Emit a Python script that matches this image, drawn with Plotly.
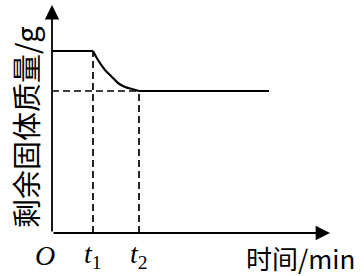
import plotly.graph_objects as go

# data (arbitrary units)
t1 = 4.1
t2 = 8.7
t_end = 21.7
m0 = 18.2
m1 = 14.2
curve_t = [4.1, 4.6, 5.3, 6.0, 6.6, 7.3, 8.0, 8.7]
curve_m = [18.2, 17.3, 16.3, 15.6, 15.0, 14.6, 14.4, 14.2]
x_axis_end = 27.8
y_axis_end = 22.8
x_tick_labels = ["<i>O</i>", "<i>t</i><sub>1</sub>", "<i>t</i><sub>2</sub>"]
x_tick_pos = [-0.7, t1, t2]
x_title = "时间/min"
y_title = "剩余固体质量/g"

fig = go.Figure()
dash = dict(color="black", width=1.7, dash="7px,4px")
solid = dict(color="black", width=2.2)
fig.add_trace(go.Scatter(x=[t1, t1], y=[0, m0], mode="lines", line=dash))
fig.add_trace(go.Scatter(x=[0, t2], y=[m1, m1], mode="lines", line=dash))
fig.add_trace(go.Scatter(x=[t2, t2], y=[0, m1], mode="lines", line=dash))
fig.add_trace(go.Scatter(x=[0, t1], y=[m0, m0], mode="lines", line=solid))
fig.add_trace(go.Scatter(x=curve_t, y=curve_m, mode="lines",
                         line=dict(color="black", width=2.2, shape="spline", smoothing=0.8)))
fig.add_trace(go.Scatter(x=[t2, t_end], y=[m1, m1], mode="lines", line=solid))

ann = []
# axes arrows
ann.append(dict(x=x_axis_end, y=0, ax=0, ay=0, xref="x", yref="y", axref="x", ayref="y",
                showarrow=True, arrowhead=2, arrowsize=1.6, arrowwidth=1.8, arrowcolor="black", text=""))
ann.append(dict(x=0, y=y_axis_end, ax=0, ay=0, xref="x", yref="y", axref="x", ayref="y",
                showarrow=True, arrowhead=2, arrowsize=1.6, arrowwidth=1.8, arrowcolor="black", text=""))
serif = "Liberation Serif, DejaVu Serif, serif"
for lab, xp in zip(x_tick_labels, x_tick_pos):
    ann.append(dict(x=xp, y=-2.2, xref="x", yref="y", text=lab, showarrow=False, borderpad=0,
                    font=dict(family=serif, size=28, color="black")))
ann.append(dict(x=30.4, y=-2.4, xref="x", yref="y", text=x_title, showarrow=False, xanchor="right",
                borderpad=0,
                font=dict(family="Noto Sans CJK SC, " + serif, size=26, color="black")))
ann.append(dict(x=-2.7, y=10.6, xref="x", yref="y", text=y_title, showarrow=False, textangle=-90,
                font=dict(family="Noto Sans CJK SC, " + serif, size=29, color="black")))

fig.update_layout(
    width=364, height=276,
    margin=dict(l=0, r=0, t=0, b=0),
    paper_bgcolor="white", plot_bgcolor="white",
    showlegend=False,
    xaxis=dict(range=[-5.2, 31.2], visible=False, fixedrange=True),
    yaxis=dict(range=[-4.3, 23.3], visible=False, fixedrange=True),
    annotations=ann,
)
fig.write_html("out.html")
